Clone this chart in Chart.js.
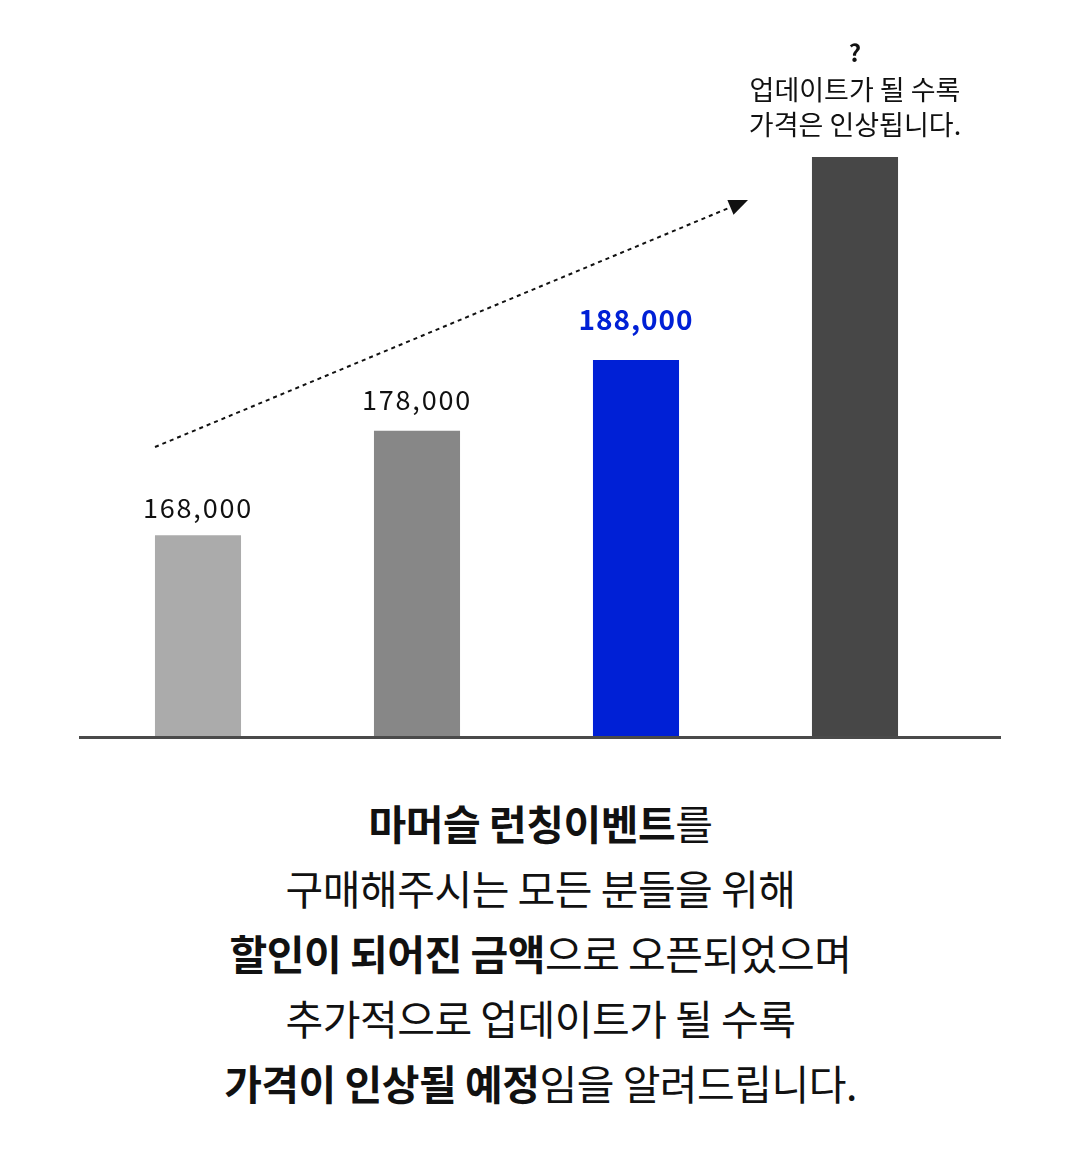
<!DOCTYPE html>
<html><head><meta charset="utf-8">
<script src="https://cdn.jsdelivr.net/npm/chart.js@4/dist/chart.umd.min.js"></script>
<style>
html,body{margin:0;padding:0;background:#fff;width:1081px;height:1151px;overflow:hidden;}
#wrap{position:absolute;left:0;top:0;width:1081px;height:760px;}
#txt{position:absolute;left:0;top:790px;width:1081px;text-align:center;font-family:"Noto Sans CJK KR","Noto Sans",sans-serif;font-size:41px;line-height:65px;color:#111;letter-spacing:-0.5px;}
#txt b{font-weight:700;}
</style></head><body>
<div id="wrap"><canvas id="c" width="1081" height="760"></canvas></div>
<div id="txt">
<div><b>마머슬 런칭이벤트</b>를</div>
<div>구매해주시는 모든 분들을 위해</div>
<div><b>할인이 되어진 금액</b>으로 오픈되었으며</div>
<div>추가적으로 업데이트가 될 수록</div>
<div><b>가격이 인상될 예정</b>임을 알려드립니다.</div>
</div>
<script>
const categories = ["런칭가 1", "런칭가 2", "런칭가 3", "업데이트"];
const barHeights = [34.8, 52.8, 65.0, 100];
const valueLabels = [["168,000"], ["178,000"], ["188,000"], ["?", "업데이트가 될 수록", "가격은 인상됩니다."]];
const barColors = ["#ababab", "#878787", "#0020d6", "#474747"];

const labelPlugin = {
  id: 'labels',
  afterDatasetsDraw(chart) {
    const ctx = chart.ctx;
    const meta = chart.getDatasetMeta(0);
    ctx.save();
    // baseline
    ctx.fillStyle = '#4a4a4a';
    ctx.fillRect(79, chart.chartArea.bottom - 1, 922, 3);
    // labels
    meta.data.forEach((bar, i) => {
      const lines = valueLabels[i];
      ctx.textAlign = 'center';
      ctx.textBaseline = 'middle';
      if (i === 2) {
        ctx.fillStyle = '#0020d6';
        ctx.letterSpacing = '1px';
        ctx.font = '700 28px "Noto Sans CJK KR", "Noto Sans", sans-serif';
        ctx.fillText(lines[0], bar.x, bar.y - 41);
      } else if (lines.length === 1) {
        ctx.fillStyle = '#111';
        ctx.letterSpacing = '1.8px';
        ctx.font = '400 27px "Noto Sans CJK KR", "Noto Sans", sans-serif';
        ctx.fillText(lines[0], bar.x, bar.y - (i === 0 ? 27 : 31));
      } else {
        ctx.fillStyle = '#111';
        ctx.letterSpacing = '0px';
        ctx.font = '700 24px "Noto Sans CJK KR", "Noto Sans", sans-serif';
        ctx.fillText(lines[0], bar.x, bar.y - 104);
        ctx.font = '400 27px "Noto Sans CJK KR", "Noto Sans", sans-serif';
        ctx.fillText(lines[1], bar.x, bar.y - 67);
        ctx.fillText(lines[2], bar.x, bar.y - 32);
      }
    });
    ctx.letterSpacing = '0px';
    // dotted arrow
    const x0 = meta.data[0].x - 43, y0 = 447;
    const x1 = 748, y1 = 200;
    const ang = Math.atan2(y1 - y0, x1 - x0);
    ctx.strokeStyle = '#111';
    ctx.lineWidth = 2;
    ctx.setLineDash([4, 4]);
    ctx.beginPath();
    ctx.moveTo(x0, y0);
    ctx.lineTo(x1 - 14 * Math.cos(ang), y1 - 14 * Math.sin(ang));
    ctx.stroke();
    ctx.setLineDash([]);
    ctx.fillStyle = '#111';
    ctx.beginPath();
    ctx.moveTo(x1, y1);
    const L = 19, W = 8;
    const bx = x1 - L * Math.cos(ang), by = y1 - L * Math.sin(ang);
    ctx.lineTo(bx + W * Math.sin(ang), by - W * Math.cos(ang));
    ctx.lineTo(bx - W * Math.sin(ang), by + W * Math.cos(ang));
    ctx.closePath();
    ctx.fill();
    ctx.restore();
  }
};

new Chart(document.getElementById('c'), {
  type: 'bar',
  data: {
    labels: categories,
    datasets: [{
      data: barHeights,
      backgroundColor: barColors,
      borderWidth: 0,
      barPercentage: 0.393,
      categoryPercentage: 1
    }]
  },
  options: {
    responsive: false,
    animation: false,
    layout: { padding: { left: 88.5, right: 116.5, top: 157, bottom: 23 } },
    plugins: { legend: { display: false }, tooltip: { enabled: false } },
    scales: {
      x: { display: false },
      y: { display: false, min: 0, max: 100 }
    }
  },
  plugins: [labelPlugin]
});
</script>
</body></html>
